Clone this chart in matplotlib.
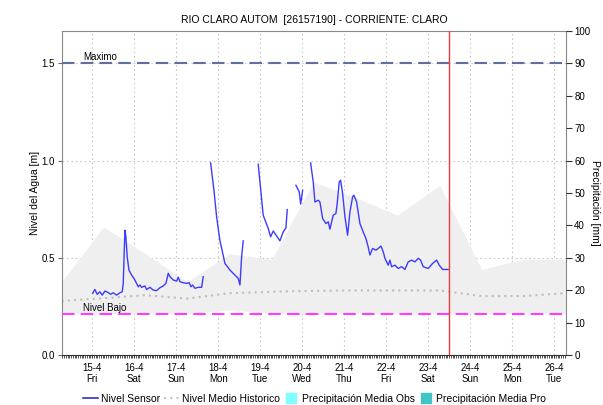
import numpy as np
import matplotlib
matplotlib.use('Agg')
import matplotlib.pyplot as plt
from matplotlib.lines import Line2D
from matplotlib.ticker import MultipleLocator

plt.rcParams['font.family'] = ['Liberation Sans', 'DejaVu Sans']

# eje de tiempo en dias desde el 15-4 00:00
dias = ['15-4', '16-4', '17-4', '18-4', '19-4', '20-4', '21-4', '22-4',
        '23-4', '24-4', '25-4', '26-4']
semana = ['Fri', 'Sat', 'Sun', 'Mon', 'Tue', 'Wed', 'Thu', 'Fri', 'Sat',
          'Sun', 'Mon', 'Tue']

nan = np.nan
# nivel del sensor [m], con cortes (nan) donde faltan datos
sensor_t = [0.01, 0.064, 0.119, 0.183, 0.238, 0.302, 0.381, 0.438, 0.5, 0.581,
            0.66, 0.714, 0.738, 0.779, 0.802, 0.833, 0.874, 0.938, 0.993,
            1.057, 1.095, 1.136, 1.176, 1.255, 1.295, 1.374, 1.452, 1.533,
            1.612, 1.69, 1.755, 1.81, 1.85, 1.929, 2.01, 2.048, 2.088, 2.167,
            2.248, 2.31, 2.35, 2.39, 2.445, 2.524, 2.605, 2.643, nan,
            2.819, 2.898, 2.962, 3.04, 3.16, 3.279, 3.476, 3.517, 3.557, 3.595,
            nan,
            3.952, 4.071, 4.19, 4.248, 4.31, 4.469, 4.548, 4.612, 4.643, nan,
            4.85, 4.929, 4.962, 5.01, nan,
            5.2, 5.262, 5.302, 5.381, 5.421, 5.486, 5.564, 5.619, 5.66, 5.738,
            5.802, 5.833, 5.881, 5.914, 5.962, 6.017, 6.081, 6.136, 6.2, 6.231,
            6.295, 6.374, 6.452, 6.517, 6.571, 6.612, 6.676, 6.755, 6.81,
            6.874, 6.929, 6.969, 7.048, 7.088, 7.129, 7.207, 7.286, 7.367,
            7.445, 7.524, 7.605, 7.683, 7.762, 7.819, 7.881, 8.0, 8.105, 8.2,
            8.262, 8.343, 8.476]
sensor_h = [0.317, 0.337, 0.312, 0.325, 0.308, 0.329, 0.321, 0.312, 0.32, 0.308,
            0.32, 0.325, 0.368, 0.642, 0.608, 0.505, 0.437, 0.411, 0.394,
            0.368, 0.351, 0.36, 0.348, 0.355, 0.337, 0.348, 0.334, 0.331,
            0.346, 0.355, 0.368, 0.42, 0.403, 0.386, 0.38, 0.40, 0.377, 0.372,
            0.368, 0.372, 0.351, 0.36, 0.343, 0.348, 0.348, 0.403, nan,
            0.988, 0.847, 0.71, 0.59, 0.471, 0.437, 0.394, 0.36, 0.505, 0.587,
            nan,
            0.981, 0.719, 0.651, 0.608, 0.638, 0.587, 0.633, 0.654, 0.748, nan,
            0.873, 0.839, 0.776, 0.847, nan,
            0.988, 0.89, 0.787, 0.796, 0.787, 0.702, 0.676, 0.685, 0.647, 0.719,
            0.728, 0.779, 0.89, 0.899, 0.83, 0.711, 0.616, 0.736, 0.813, 0.822,
            0.787, 0.676, 0.633, 0.599, 0.556, 0.514, 0.548, 0.539, 0.548,
            0.56, 0.531, 0.497, 0.462, 0.488, 0.454, 0.462, 0.445, 0.454,
            0.44, 0.479, 0.488, 0.479, 0.497, 0.488, 0.454, 0.445, 0.471, 0.488,
            0.462, 0.44, 0.44]

# rango y media historica, un valor por dia
hist_t = [-0.73, 0.27, 1.27, 2.27, 3.27, 4.27, 5.27, 6.27, 7.27, 8.27, 9.27,
          10.27, 11.27]
hist_max = [0.375, 0.659, 0.52, 0.376, 0.522, 0.49, 0.89, 0.81, 0.719, 0.873,
            0.44, 0.493, 0.493]
hist_min = [0.212, 0.212, 0.212, 0.212, 0.232, 0.212, 0.212, 0.212, 0.212,
            0.212, 0.212, 0.212, 0.212]
hist_medio = [0.278, 0.292, 0.308, 0.29, 0.318, 0.325, 0.33, 0.332, 0.332,
              0.332, 0.303, 0.303, 0.318]

nivel_maximo = 1.5
nivel_bajo = 0.21
ahora = 8.5

fig = plt.figure(figsize=(6.03, 4.05), dpi=100)
ax = fig.add_axes([0.1028, 0.1235, 0.8358, 0.8])

ax.fill_between(hist_t, hist_min, hist_max, color='#efefef', lw=0, zorder=1)
ax.plot(hist_t, hist_medio, color='#bdbdbd', lw=1.5, ls=(0, (1, 2)), zorder=2)
ax.plot(sensor_t, sensor_h, color='#3c3cff', lw=1.0, zorder=4)

ax.axhline(nivel_maximo, color='#5f6fa3', lw=1.5, ls=(0, (6, 3)), zorder=3)
ax.axhline(nivel_bajo, color='#ff3cff', lw=1.5, ls=(0, (6, 3)), zorder=3)
ax.axvline(ahora, color='#f03c3c', lw=1.0, zorder=5)
ax.text(-0.22, nivel_maximo + 0.008, 'Maximo', fontsize=7, va='bottom', ha='left')
ax.text(-0.22, nivel_bajo + 0.008, 'Nivel Bajo', fontsize=7, va='bottom', ha='left')

ax.set_xlim(-0.72, 11.28)
ax.set_ylim(0, 100 / 60)
ax.set_xticks(range(len(dias)))
ax.set_xticklabels([f'{d}\n{s}' for d, s in zip(dias, semana)], fontsize=7,
                   linespacing=1.2)
ax.xaxis.set_minor_locator(MultipleLocator(1 / 24))
ax.tick_params(axis='x', which='major', length=2, color='#333333')
ax.tick_params(axis='x', which='minor', length=2, width=0.6, color='#333333')
ax.set_yticks([0, 0.5, 1.0, 1.5])
ax.set_yticklabels(['0.0', '0.5', '1.0', '1.5'], fontsize=7)
ax.tick_params(axis='y', length=3, color='#666666', pad=2)
ax.grid(True, color='#c8c8c8', lw=0.8, ls=(0, (1.5, 2.5)))
ax.set_axisbelow(True)
for s in ax.spines.values():
    s.set_color('#888888')
    s.set_linewidth(0.8)
ax.spines['bottom'].set_color('#333333')
ax.set_ylabel('Nivel del Agua [m]', fontsize=7.5, labelpad=1)
ax.set_title('RIO CLARO AUTOM  [26157190] - CORRIENTE: CLARO', fontsize=7.5,
             pad=6)

ax2 = ax.twinx()
ax2.set_ylim(0, 100)
ax2.set_yticks(range(0, 101, 10))
ax2.tick_params(axis='y', length=4, color='#333333', labelsize=7, pad=2)
for s in ax2.spines.values():
    s.set_visible(False)
fig.text(595 / 603, 0.5, 'Precipitación [mm]', fontsize=7.5, rotation=270,
         ha='center', va='center')

handles = [
    Line2D([], [], color='#1c1ccc', lw=1.1),
    Line2D([], [], color='#c4c4c4', lw=1.5, ls=(0, (1, 2))),
    Line2D([], [], color='#7fffff', marker='s', ls='none', markersize=7),
    Line2D([], [], color='#40c4c4', marker='s', ls='none', markersize=7),
]
labels = ['Nivel Sensor', 'Nivel Medio Historico', 'Precipitación Media Obs',
          'Precipitación Media Pro']
fig.legend(handles, labels, loc='lower center', bbox_to_anchor=(0.522, -0.02),
           ncol=4, frameon=False, fontsize=7.5, handlelength=1.4,
           handletextpad=0.3, columnspacing=0.4)

fig.savefig('out.png', dpi=100)
